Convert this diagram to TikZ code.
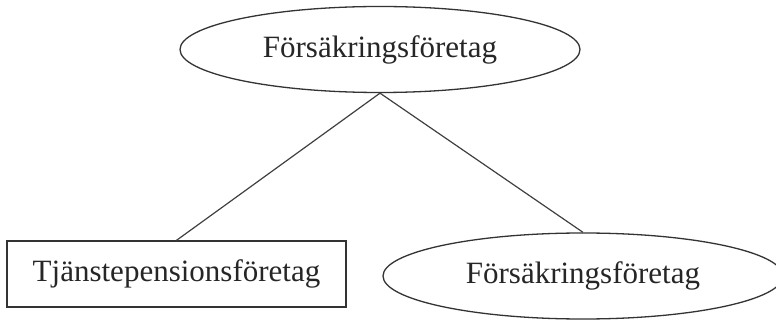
\documentclass[tikz,border=0pt]{standalone}
\usepackage{fontspec}
\setmainfont{Liberation Serif}
\usetikzlibrary{shapes.geometric}
\tikzset{
  every node/.style={font=\fontsize{31}{37}\selectfont, text=black!85},
  entity/.style={draw=black!80, line width=1.3pt, ellipse, inner sep=0pt,
                 minimum width=400pt, minimum height=86pt},
  plainbox/.style={draw=black!80, line width=1.3pt, rectangle, inner sep=0pt,
                   minimum width=339pt, minimum height=66pt},
  link/.style={draw=black!75, line width=1.2pt}
}
\begin{document}
\begin{tikzpicture}[x=1pt, y=-1pt]
  \useasboundingbox (0,0) rectangle (776,320);
  \clip (0,0) rectangle (776,320);
  \fill[white] (0,0) rectangle (776,320);
  \node[entity] (top) at (380,49.5) {Försäkringsföretag};
  \node[plainbox] (tjp) at (176.5,274) {Tjänstepensionsföretag};
  \node[entity] (fbr) at (583,276) {Försäkringsföretag};
  \draw[link] (top.south) -- (tjp.north);
  \draw[link] (top.south) -- (fbr.north);
\end{tikzpicture}
\end{document}
